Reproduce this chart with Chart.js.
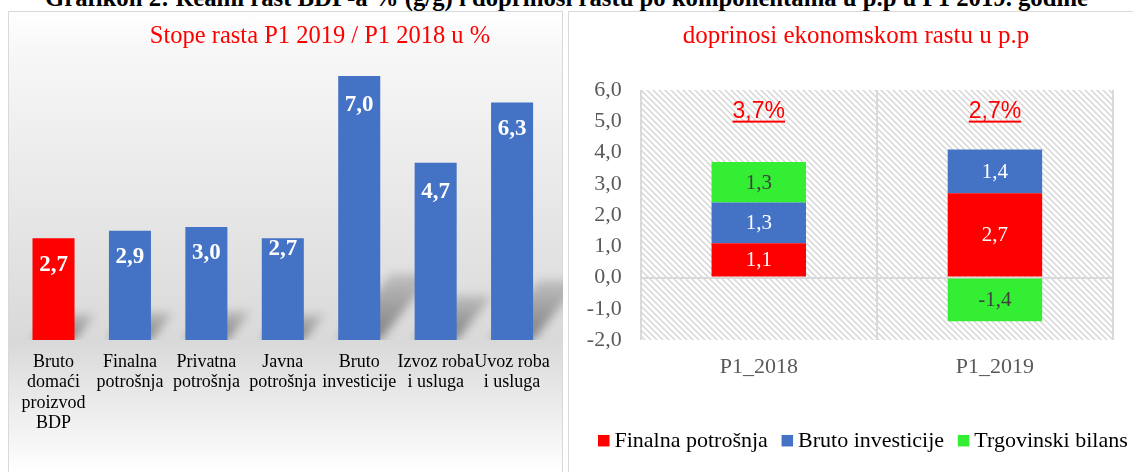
<!DOCTYPE html>
<html>
<head>
<meta charset="utf-8">
<script src="https://cdn.jsdelivr.net/npm/chart.js@4.4.1/dist/chart.umd.min.js"></script>
<style>
html,body{margin:0;padding:0;background:#fff;overflow:hidden;width:1133px;height:472px;position:relative;}
#title{position:absolute;left:0;width:1133px;text-align:center;font-family:'Liberation Serif','Times New Roman',serif;font-weight:bold;white-space:nowrap;color:#000;}
#p1{position:absolute;left:8px;top:11px;width:553px;height:480px;border:1px solid #d9d9d9;background:linear-gradient(to bottom,#ffffff 0px,#f7f7f7 40px,#d9d9d9 330px,#ffffff 461px);}
#p2{position:absolute;left:568px;top:11px;width:620px;height:480px;border:1px solid #d9d9d9;background:#fff;}
canvas{position:absolute;}
</style>
</head>
<body>
<div id="p1"></div>
<div id="p2"></div>
<div id="title"><span id="tspan">Grafikon 2: Realni rast BDP-a % (g/g) i doprinosi rastu po komponentama u p.p u P1 2019. godine</span></div>
<canvas id="c1" width="555" height="461" style="left:8px;top:11px;"></canvas>
<canvas id="c2" width="586" height="461" style="left:568px;top:11px;"></canvas>
<script>
// ---------- data ----------
const growthCategories = [
  ['Bruto','domaći','proizvod','BDP'],
  ['Finalna','potrošnja'],
  ['Privatna','potrošnja'],
  ['Javna','potrošnja'],
  ['Bruto','investicije'],
  ['Izvoz roba','i usluga'],
  ['Uvoz roba','i usluga']
];
const growthRates = [2.7, 2.9, 3.0, 2.7, 7.0, 4.7, 6.3];

const periods = ['P1_2018', 'P1_2019'];
const finalConsumption = [1.1, 2.7];
const grossInvestment = [1.3, 1.4];
const tradeBalance = [1.3, -1.4];
const totalGrowth = [3.7, 2.7];

// ---------- helpers ----------
const SERIF = "'Liberation Serif','Times New Roman',serif";
const SANS = "'Liberation Sans',Arial,sans-serif";
const fmt = v => Number(v).toFixed(1).replace('.', ',');

// top title sizing
(function(){
  const t = document.getElementById('title');
  const s = document.getElementById('tspan');
  t.style.fontSize = '20px';
  const w = s.getBoundingClientRect().width;
  const fs = 20 * 1044 / w;
  t.style.fontSize = fs + 'px';
  t.style.lineHeight = fs + 'px';
  t.style.top = (7 - 0.8375 * fs) + 'px';
})();

const panelTitle = {
  id: 'panelTitle',
  afterDraw(chart, args, o) {
    const ctx = chart.ctx;
    ctx.save();
    ctx.font = o.font;
    ctx.fillStyle = o.color;
    ctx.textAlign = 'center';
    ctx.textBaseline = 'alphabetic';
    ctx.fillText(o.text, o.x, o.y);
    ctx.restore();
  }
};

const barShadow = {
  id: 'barShadow',
  beforeDatasetsDraw(chart, args, o) {
    const ctx = chart.ctx;
    const meta = chart.getDatasetMeta(0);
    const base = meta.data[0].base;
    ctx.save();
    ctx.beginPath();
    ctx.rect(chart.chartArea.left, 0, chart.width - chart.chartArea.left, base);
    ctx.clip();
    ctx.filter = 'blur(' + o.blur + 'px)';
    meta.data.forEach(bar => {
      const w = bar.width, h = bar.base - bar.y;
      const xl = bar.x - w / 2, xr = bar.x + w / 2, b = bar.base;
      const dx = o.skewX * h, dy = o.skewY * h;
      const g = ctx.createLinearGradient(0, b, 0, b - dy);
      g.addColorStop(0, 'rgba(0,0,0,' + o.alpha0 + ')');
      g.addColorStop(1, 'rgba(0,0,0,' + o.alpha1 + ')');
      ctx.fillStyle = g;
      ctx.beginPath();
      ctx.moveTo(xl, b);
      ctx.lineTo(xr, b);
      ctx.lineTo(xr + dx, b - dy);
      ctx.lineTo(xl + dx, b - dy);
      ctx.closePath();
      ctx.fill();
    });
    ctx.restore();
  }
};

const growthValues = {
  id: 'growthValues',
  afterDatasetsDraw(chart, args, o) {
    const ctx = chart.ctx;
    const meta = chart.getDatasetMeta(0);
    const data = chart.data.datasets[0].data;
    ctx.save();
    ctx.font = o.font;
    ctx.fillStyle = '#ffffff';
    ctx.textAlign = 'center';
    ctx.textBaseline = 'middle';
    meta.data.forEach((bar, i) => {
      ctx.fillText(fmt(data[i]), bar.x, bar.y + o.offsets[i]);
    });
    ctx.restore();
  }
};

const hatchBg = {
  id: 'hatchBg',
  beforeDraw(chart) {
    const ctx = chart.ctx;
    const a = chart.chartArea;
    const tile = document.createElement('canvas');
    tile.width = 6; tile.height = 6;
    const t = tile.getContext('2d');
    t.fillStyle = '#ffffff';
    t.fillRect(0, 0, 6, 6);
    t.strokeStyle = '#d6d6d6';
    t.lineWidth = 1.5;
    t.beginPath();
    t.moveTo(-1, -1); t.lineTo(7, 7);
    t.moveTo(-4, 2); t.lineTo(1, 7);
    t.moveTo(5, -1); t.lineTo(8, 2);
    t.stroke();
    ctx.save();
    ctx.fillStyle = ctx.createPattern(tile, 'repeat');
    ctx.fillRect(a.left, a.top, a.right - a.left, a.bottom - a.top);
    ctx.restore();
  }
};

const stackValues = {
  id: 'stackValues',
  afterDatasetsDraw(chart, args, o) {
    const ctx = chart.ctx;
    ctx.save();
    ctx.font = o.font;
    ctx.textAlign = 'center';
    ctx.textBaseline = 'middle';
    chart.data.datasets.forEach((ds, di) => {
      const meta = chart.getDatasetMeta(di);
      ctx.fillStyle = o.colors[di];
      meta.data.forEach((bar, i) => {
        ctx.fillText(fmt(ds.data[i]), bar.x, (bar.y + bar.base) / 2 + 1);
      });
    });
    // totals
    const xs = chart.scales.x, ys = chart.scales.y;
    ctx.font = o.totalFont;
    ctx.fillStyle = '#FF0000';
    ctx.textBaseline = 'alphabetic';
    totalGrowth.forEach((v, i) => {
      const txt = fmt(v) + '%';
      const x = xs.getPixelForValue(i);
      const y = ys.getPixelForValue(o.totalPos);
      ctx.fillText(txt, x, y);
      const w = ctx.measureText(txt).width;
      ctx.fillRect(x - w / 2, y + 2.5, w, 2);
    });
    ctx.restore();
  }
};

const boxLegend = {
  id: 'boxLegend',
  afterDraw(chart, args, o) {
    const ctx = chart.ctx;
    ctx.save();
    ctx.font = o.font;
    ctx.textBaseline = 'middle';
    ctx.textAlign = 'left';
    let x = o.x;
    chart.data.datasets.forEach(ds => {
      ctx.fillStyle = ds.backgroundColor;
      ctx.fillRect(x, o.y - o.box / 2, o.box, o.box);
      x += o.box + o.gap;
      ctx.fillStyle = o.color;
      ctx.fillText(ds.label, x, o.y + 1);
      x += ctx.measureText(ds.label).width + o.spacing;
    });
    ctx.restore();
  }
};

// ---------- left chart ----------
new Chart(document.getElementById('c1'), {
  type: 'bar',
  data: {
    labels: growthCategories,
    datasets: [{
      data: growthRates,
      backgroundColor: c => c.dataIndex === 0 ? '#FF0000' : '#4472C4',
      borderWidth: 0,
      barPercentage: 0.55,
      categoryPercentage: 1
    }]
  },
  options: {
    responsive: false,
    animation: false,
    devicePixelRatio: 1,
    layout: { padding: { left: 7.3, right: 12.7, top: 46.25, bottom: 0 } },
    scales: {
      x: {
        grid: { display: false },
        border: { display: false },
        ticks: {
          color: '#000',
          font: { size: 18, family: SERIF, lineHeight: 1.13 },
          padding: 4,
          autoSkip: false,
          maxRotation: 0,
          minRotation: 0
        },
        afterFit: s => { s.height = 132; }
      },
      y: { display: false, min: 0, max: 7.5 }
    },
    plugins: {
      legend: { display: false },
      tooltip: { enabled: false },
      panelTitle: { text: 'Stope rasta P1 2019 / P1 2018 u %', x: 312, y: 31.7, font: '24.5px ' + SERIF, color: '#FF0000' },
      barShadow: { skewX: 0.2, skewY: 0.25, alpha0: 0.42, alpha1: 0.14, blur: 5 },
      growthValues: { font: 'bold 23px ' + SERIF, offsets: [27, 26, 26, 11, 29, 29, 27] }
    }
  },
  plugins: [barShadow, growthValues, panelTitle]
});

// ---------- right chart ----------
new Chart(document.getElementById('c2'), {
  type: 'bar',
  data: {
    labels: periods,
    datasets: [
      { label: 'Finalna potrošnja', data: finalConsumption, backgroundColor: '#FF0000', borderWidth: 0, barPercentage: 0.4, categoryPercentage: 1 },
      { label: 'Bruto investicije', data: grossInvestment, backgroundColor: '#4472C4', borderWidth: 0, barPercentage: 0.4, categoryPercentage: 1 },
      { label: 'Trgovinski bilans', data: tradeBalance, backgroundColor: '#33EE33', borderWidth: 0, barPercentage: 0.4, categoryPercentage: 1 }
    ]
  },
  options: {
    responsive: false,
    animation: false,
    devicePixelRatio: 1,
    layout: { padding: { left: 0, right: 41, top: 79, bottom: 52 } },
    scales: {
      x: {
        stacked: true,
        grid: { offset: true, color: '#d9d9d9', lineWidth: 2, drawTicks: false },
        border: { display: false },
        ticks: { color: '#595959', font: { size: 22, family: SERIF }, padding: 14 },
        afterFit: s => { s.height = 80; }
      },
      y: {
        stacked: true,
        min: -2,
        max: 6,
        grid: {
          color: c => (c.tick && c.tick.value === 0) ? '#d9d9d9' : 'rgba(0,0,0,0)',
          lineWidth: 2,
          drawTicks: false
        },
        border: { display: false },
        ticks: { stepSize: 1, color: '#595959', font: { size: 22, family: SERIF }, padding: 19, callback: v => fmt(v) },
        afterFit: s => { s.width = 72.7; }
      }
    },
    plugins: {
      legend: { display: false },
      tooltip: { enabled: false },
      panelTitle: { text: 'doprinosi ekonomskom rastu u p.p', x: 288, y: 31.7, font: '25px ' + SERIF, color: '#FF0000' },
      stackValues: { font: '21px ' + SERIF, colors: ['#ffffff', '#ffffff', '#404040'], totalFont: '23px ' + SANS, totalPos: 5.1 },
      boxLegend: { x: 30, y: 429.7, box: 11.5, gap: 5, spacing: 13.7, font: '22px ' + SERIF, color: '#000' }
    }
  },
  plugins: [hatchBg, stackValues, panelTitle, boxLegend]
});
</script>
</body>
</html>
